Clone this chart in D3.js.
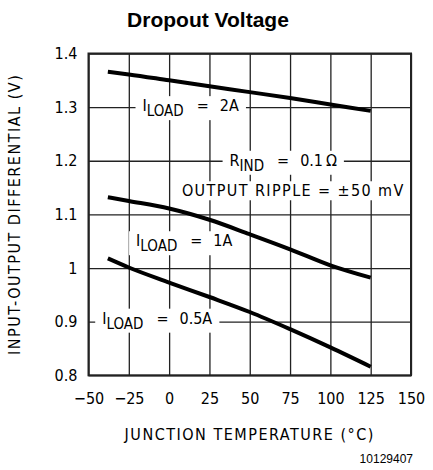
<!DOCTYPE html>
<html>
<head>
<meta charset="utf-8">
<script src="https://cdn.jsdelivr.net/npm/d3@7"></script>
<style>
  body { margin: 0; background: #fff; }
  .tech { font-family: "Liberation Sans Narrow", "Arial Narrow", "DejaVu Sans Condensed", sans-serif; }
</style>
</head>
<body>
<div class="visual"></div>
<script>
// data
const temps = [-38, -25, 0, 25, 50, 75, 100, 125];
const dropout2A = [1.366, 1.361, 1.350, 1.339, 1.328, 1.317, 1.305, 1.293];
const dropout1A = [1.132, 1.125, 1.111, 1.090, 1.063, 1.035, 1.005, 0.982];
const dropout05A = [1.018, 1.001, 0.973, 0.946, 0.918, 0.886, 0.852, 0.816];
const xTicks = [-50, -25, 0, 25, 50, 75, 100, 125, 150];
const yTicks = [0.8, 0.9, 1.0, 1.1, 1.2, 1.3, 1.4];
const yTickLabels = ["0.8", "0.9", "1", "1.1", "1.2", "1.3", "1.4"];

//set constants
const margin = {top: 53.5, left: 88.5};
const W = 322.5, H = 321.8;

const svg = d3.select(".visual")
  .append("svg")
  .attr("width", 433)
  .attr("height", 470);

const g = svg.append("g")
  .attr("transform", "translate(" + margin.left + "," + margin.top + ")");

const xScale = d3.scaleLinear().domain([-50, 150]).range([0, W]);
const yScale = d3.scaleLinear().domain([0.8, 1.4]).range([H, 0]);

// title
svg.append("text")
  .attr("x", 208).attr("y", 27)
  .attr("text-anchor", "middle")
  .style("font-family", "'Liberation Sans', Arial, sans-serif")
  .style("font-weight", "bold")
  .style("font-size", "21px")
  .text("Dropout Voltage");

// grid via axes
const xAxis = g.append("g")
  .attr("transform", "translate(0," + H + ")")
  .call(d3.axisBottom(xScale).tickValues(xTicks).tickSize(H).tickPadding(0));
xAxis.selectAll(".tick line").attr("y2", -H);
xAxis.selectAll(".tick text").attr("y", 29).attr("dy", 0);

const yAxis = g.append("g")
  .call(d3.axisLeft(yScale).tickValues(yTicks).tickSize(-W).tickPadding(11)
    .tickFormat((d, i) => yTickLabels[i]));

[xAxis, yAxis].forEach(a => {
  a.select(".domain").remove();
  a.selectAll(".tick line").attr("stroke", "#222").attr("stroke-width", 1.3);
  a.selectAll(".tick text")
    .attr("class", "tech")
    .style("font-size", "16px")
    .attr("fill", "#000");
});

// labels with white boxes over grid
function label(x, y, parts, anchor, spacing) {
  const t = g.append("text")
    .attr("class", "tech")
    .attr("x", x).attr("y", y)
    .attr("text-anchor", anchor || "start")
    .style("font-size", "16px");
  if (spacing) t.style("letter-spacing", spacing);
  parts.forEach(p => {
    const s = t.append("tspan").text(p.t);
    if (p.dx) s.attr("dx", p.dx);
    if (p.dy) s.attr("dy", p.dy);
    if (p.sub) s.style("font-size", "15px");
  });
  const b = t.node().getBBox();
  g.insert("rect", "text.lbl")
    .attr("x", b.x - 7).attr("y", b.y)
    .attr("width", b.width + 14).attr("height", b.height)
    .attr("fill", "#fff");
  t.classed("lbl", true);
  t.raise();
  return t;
}

label(xScale(-16.5), yScale(1.3) + 4, [
  {t: "I"}, {t: "LOAD", dy: 5, sub: true}, {t: "=", dx: 13, dy: -5}, {t: "2A", dx: 11}
]);
label(xScale(-20.5), yScale(1.05) + 5, [
  {t: "I"}, {t: "LOAD", dy: 5, sub: true}, {t: "=", dx: 13, dy: -5}, {t: "1A", dx: 11}
]);
label(xScale(-41.5), yScale(0.9) + 2, [
  {t: "I"}, {t: "LOAD", dy: 5, sub: true}, {t: "=", dx: 13, dy: -5}, {t: "0.5A", dx: 11}
]);
label(xScale(37.5), yScale(1.2) + 5, [
  {t: "R"}, {t: "IND", dy: 5, sub: true}, {t: "=", dx: 13, dy: -5}, {t: "0.1\u2009\u03A9", dx: 11}
]);
label(xScale(77), yScale(1.145) + 6, [
  {t: "OUTPUT RIPPLE = \u00B150 mV"}
], "middle", "1.4px");

// border (drawn over the label boxes)
g.append("rect")
  .attr("width", W).attr("height", H)
  .attr("fill", "none")
  .attr("stroke", "#222")
  .attr("stroke-width", 2);

// curves
const line = d3.line()
  .x((d, i) => xScale(temps[i]))
  .y(d => yScale(d))
  .curve(d3.curveMonotoneX);

[dropout2A, dropout1A, dropout05A].forEach(s => {
  g.append("path")
    .datum(s)
    .attr("d", line)
    .attr("fill", "none")
    .attr("stroke", "#000")
    .attr("stroke-width", 4);
});

// axis titles
svg.append("text")
  .attr("class", "tech")
  .attr("x", margin.left + W / 2).attr("y", 440)
  .attr("text-anchor", "middle")
  .style("font-size", "16px")
  .style("letter-spacing", "1.5px")
  .text("JUNCTION TEMPERATURE (\u00B0C)");

svg.append("text")
  .attr("class", "tech")
  .attr("transform", "rotate(-90)")
  .attr("x", -(margin.top + H / 2)).attr("y", 20)
  .attr("text-anchor", "middle")
  .style("font-size", "16px")
  .style("letter-spacing", "1.5px")
  .text("INPUT-OUTPUT DIFFERENTIAL (V)");

svg.append("text")
  .attr("x", 413).attr("y", 463)
  .attr("text-anchor", "end")
  .style("font-family", "'Liberation Sans', Arial, sans-serif")
  .style("font-size", "12px")
  .text("10129407");
</script>
</body>
</html>
